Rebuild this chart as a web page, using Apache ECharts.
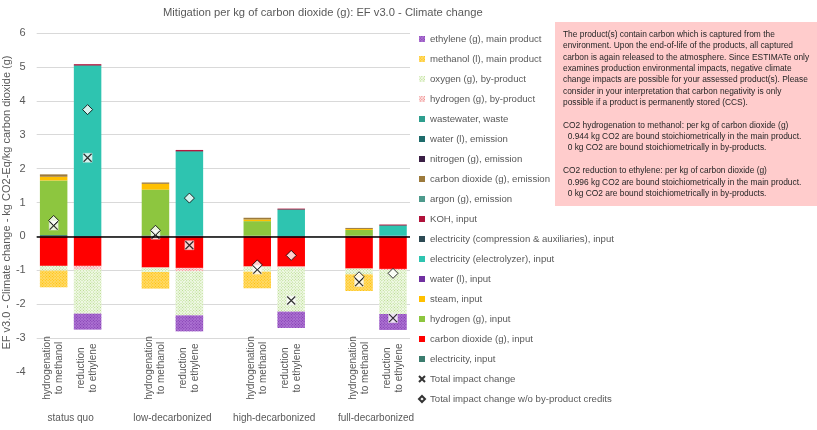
<!DOCTYPE html>
<html><head><meta charset="utf-8">
<script src="https://cdn.jsdelivr.net/npm/echarts@6/dist/echarts.min.js"></script>
<style>html,body{margin:0;padding:0;background:#fff}#c{width:817px;height:430px}</style>
</head><body><div id="c"></div>
<script>
// ---- categories / tick labels ----
const scenarios = ['status quo', 'low-decarbonized', 'high-decarbonized', 'full-decarbonized'];
const routes = ['hydrogenation\nto methanol', 'reduction\nto ethylene'];
const yMin = -4, yMax = 6, yStep = 1;

// ---- series values (order: SQ-M, SQ-E, LD-M, LD-E, HD-M, HD-E, FD-M, FD-E) ----
const electricityInput   = [0.04, 0, 0.03, 0, 0.02, 0, 0.02, 0];
const co2Input           = [-0.87, -0.87, -0.92, -0.93, -0.89, -0.89, -0.95, -0.96];
const hydrogenInput      = [1.61, 0, 1.35, 0, 0.43, 0, 0.17, 0];
const steamInput         = [0.11, 0, 0.17, 0, 0.05, 0, 0.03, 0];
const waterInput         = [0, 0.01, 0, 0.02, 0, 0.01, 0, 0.02];
const elecElectrolyzer   = [0, 5.02, 0, 2.48, 0, 0.77, 0, 0.29];
const elecCompression    = [0, 0.02, 0, 0.02, 0, 0.02, 0, 0.02];
const kohInput           = [0, 0.03, 0, 0.03, 0, 0.02, 0, 0.02];
const argonEmission      = [0, 0, 0, 0, 0, 0, 0, 0];
const co2Emission        = [0.07, 0, 0.04, 0, 0.05, 0, 0.03, 0];
const nitrogenEmission   = [0, 0, 0, 0, 0, 0, 0, 0];
const waterEmission      = [0, 0, 0, 0, 0, 0, 0, 0];
const wastewaterWaste    = [0, 0, 0, 0, 0, 0, 0, 0];
const hydrogenByproduct  = [0, -0.11, 0, -0.10, 0, -0.03, 0, -0.03];
const oxygenByproduct    = [-0.14, -1.30, -0.13, -1.30, -0.15, -1.30, -0.17, -1.30];
const methanolMain       = [-0.49, 0, -0.49, 0, -0.49, 0, -0.49, 0];
const ethyleneMain       = [0, -0.47, 0, -0.47, 0, -0.48, 0, -0.47];
const totalChange        = [0.32, 2.32, 0.05, -0.26, -0.98, -1.89, -1.35, -2.41];
const totalNoCredits     = [0.47, 3.74, 0.18, 1.13, -0.84, -0.56, -1.19, -1.09];

const noteText = [
  'The product(s) contain carbon which is captured from the',
  'environment. Upon the end-of-life of the products, all captured',
  'carbon is again released to the atmosphere. Since ESTIMATe only',
  'examines production environmental impacts, negative climate',
  'change impacts are possible for your assessed product(s). Please',
  'consider in your interpretation that carbon negativity is only',
  'possible if a product is permanently stored (CCS).',
  '',
  'CO2 hydrogenation to methanol: per kg of carbon dioxide (g)',
  '  0.944 kg CO2 are bound stoichiometrically in the main product.',
  '  0 kg CO2 are bound stoichiometrically in by-products.',
  '',
  'CO2 reduction to ethylene: per kg of carbon dioxide (g)',
  '  0.996 kg CO2 are bound stoichiometrically in the main product.',
  '  0 kg CO2 are bound stoichiometrically in by-products.'
];

// ---- build category slots (two bars per scenario + a blank gap) ----
const categories = [];
const slotOfBar = [];
scenarios.forEach((s, i) => {
  routes.forEach(r => { slotOfBar.push(categories.length); categories.push(r); });
  if (i < scenarios.length - 1) categories.push('');
});
function expand(arr) {
  const out = categories.map(() => '-');
  arr.forEach((v, i) => { out[slotOfBar[i]] = v; });
  return out;
}
const groupPositions = scenarios.map((s, i) => i * 3 + 0.5);

function hatch(c) {
  return { symbol: 'rect', symbolSize: 1, dashArrayX: [1, 1], dashArrayY: [1, 1], rotation: Math.PI / 4, color: c };
}

// stacking order bottom-up
const barDefs = [
  { name: 'electricity, input', data: electricityInput, color: '#3B7C6E' },
  { name: 'carbon dioxide (g), input', data: co2Input, color: '#FF0000' },
  { name: 'hydrogen (g), input', data: hydrogenInput, color: '#8DC63F' },
  { name: 'steam, input', data: steamInput, color: '#FFC000' },
  { name: 'water (l), input', data: waterInput, color: '#7030A0' },
  { name: 'electricity (electrolyzer), input', data: elecElectrolyzer, color: '#2EC4B0' },
  { name: 'electricity (compression & auxiliaries), input', data: elecCompression, color: '#2D4A53' },
  { name: 'KOH, input', data: kohInput, color: '#B0123A' },
  { name: 'argon (g), emission', data: argonEmission, color: '#4E9A8C' },
  { name: 'carbon dioxide (g), emission', data: co2Emission, color: '#9C7A3C' },
  { name: 'nitrogen (g), emission', data: nitrogenEmission, color: '#3A1F45' },
  { name: 'water (l), emission', data: waterEmission, color: '#1E6B6B' },
  { name: 'wastewater, waste', data: wastewaterWaste, color: '#2E9E8E' },
  { name: 'hydrogen (g), by-product', data: hydrogenByproduct, color: '#FBE0E0', decal: hatch('#F07A7A') },
  { name: 'oxygen (g), by-product', data: oxygenByproduct, color: '#F1F9E8', decal: hatch('#B4DA86') },
  { name: 'methanol (l), main product', data: methanolMain, color: '#FFDA6A', decal: hatch('#FFC000') },
  { name: 'ethylene (g), main product', data: ethyleneMain, color: '#AC72D2', decal: hatch('#7F37AE') }
];

const series = barDefs.map((d, i) => {
  const s = {
    name: d.name, type: 'bar', stack: 'total', data: expand(d.data),
    barCategoryGap: '19%',
    itemStyle: { color: d.color, decal: d.decal || null },
    emphasis: { disabled: true }
  };
  if (i === 0) {
    s.markLine = {
      silent: true, symbol: ['none', 'none'], label: { show: false },
      lineStyle: { color: '#000', width: 1.5, type: 'solid' },
      data: [{ yAxis: 0 }], z: 5
    };
  }
  return s;
});

series.push({
  name: 'xbg', type: 'scatter', data: expand(totalChange), symbol: 'rect', symbolSize: 9,
  itemStyle: { color: '#fff', borderColor: '#e8e8e8', borderWidth: 0.5 }, z: 4, silent: true
});
series.push({
  name: 'Total impact change', type: 'scatter', data: expand(totalChange),
  symbol: 'path://M0,0 L10,10 M10,0 L0,10', symbolSize: 8,
  itemStyle: { color: 'rgba(0,0,0,0)', borderColor: '#000', borderWidth: 1.2 }, z: 5
});
series.push({
  name: 'Total impact change w/o by-product credits', type: 'scatter', data: expand(totalNoCredits),
  symbol: 'diamond', symbolSize: 10,
  itemStyle: { color: '#fff', borderColor: '#000', borderWidth: 1 }, z: 5
});

const legendNames = barDefs.map(d => d.name).reverse()
  .concat(['Total impact change', 'Total impact change w/o by-product credits']);

const chart = echarts.init(document.getElementById('c'), null, { renderer: 'canvas' });
chart.setOption({
  animation: false,
  textStyle: { fontFamily: 'Liberation Sans, Arial, sans-serif' },
  title: {
    text: 'Mitigation per kg of carbon dioxide (g): EF v3.0 - Climate change',
    left: 163, top: 7, padding: 0,
    textStyle: { fontSize: 11.2, fontWeight: 'normal', color: '#595959' }
  },
  grid: { left: 32, top: 33, width: 378, height: 339 },
  legend: {
    orient: 'vertical', left: 418, top: 33, padding: 0,
    itemWidth: 6, itemHeight: 6, itemGap: 8,
    data: legendNames.map(n => ({ name: n, icon: (n.startsWith('Total') ? undefined : 'rect') })),
    textStyle: { fontSize: 9.6, color: '#595959', lineHeight: 12 },
    selectedMode: false
  },
  xAxis: [
    {
      type: 'category', data: categories, gridIndex: 0,
      axisLine: { show: false, onZero: false }, axisTick: { show: false },
      axisLabel: { rotate: 90, interval: 0, fontSize: 10, color: '#595959', align: 'center', margin: -4, lineHeight: 12 },
      splitLine: { show: false }
    },
    {
      type: 'value', min: -0.5, max: 10.5, position: 'bottom', gridIndex: 0,
      axisLine: { show: false }, axisTick: { show: false }, splitLine: { show: false },
      axisLabel: {
        customValues: groupPositions, fontSize: 10, color: '#595959', margin: 41,
        formatter: v => scenarios[Math.round((v - 0.5) / 3)] || ''
      }
    }
  ],
  yAxis: {
    type: 'value', min: yMin, max: yMax, interval: yStep,
    axisLine: { show: false }, axisTick: { show: false },
    axisLabel: { fontSize: 11, color: '#595959', margin: 11 },
    splitLine: { lineStyle: { color: '#D9D9D9', width: 1 }, showMinLine: false },
    name: 'EF v3.0 - Climate change - kg CO2-Eq/kg carbon dioxide (g)',
    nameLocation: 'middle', nameGap: 19,
    nameTextStyle: { fontSize: 11, color: '#595959' }
  },
  graphic: [{
    type: 'group', left: 555, top: 22, z: 100,
    children: [
      { type: 'rect', shape: { x: 0, y: 0, width: 262, height: 184 }, style: { fill: '#FFCCCC' } },
      { type: 'text', x: 8, y: 7, style: { text: noteText.join('\n'), font: '8.4px "Liberation Sans", Arial, sans-serif', fill: '#262626', lineHeight: 11.35 } }
    ]
  }],
  series: series
});
</script></body></html>
